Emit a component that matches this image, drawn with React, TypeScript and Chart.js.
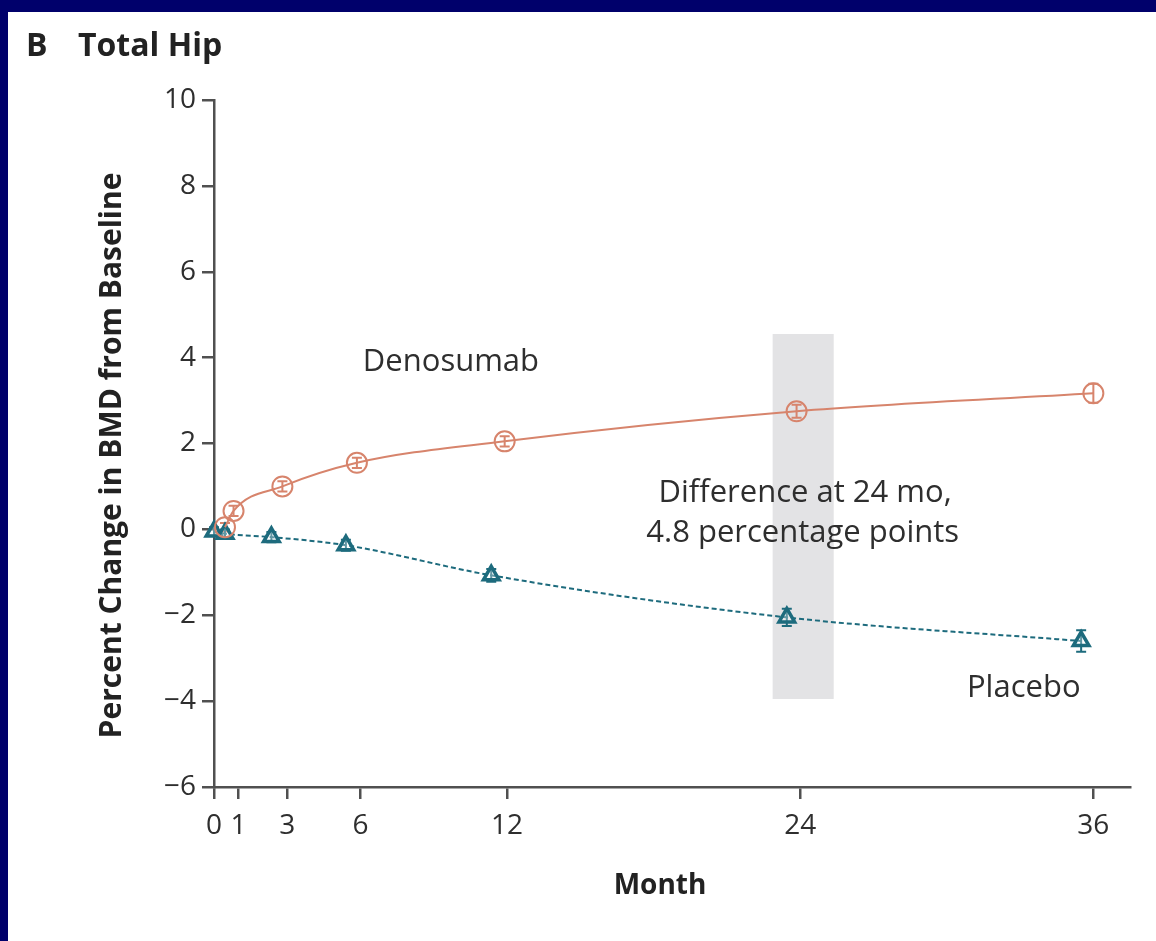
import React, { useEffect, useRef } from 'react';
import { Chart, registerables } from 'chart.js';

Chart.register(...registerables);

// ---- Data ----
const monthTicks = [0, 1, 3, 6, 12, 24, 36];
const yMin = -6;
const yMax = 10;
const yStep = 2;

const denosumabMonths = [0.45, 0.8, 2.8, 5.85, 11.9, 23.85, 36];
const denosumabValues = [0.05, 0.43, 1.0, 1.55, 2.05, 2.75, 3.17];
const denosumabErrors = [0.1, 0.12, 0.12, 0.12, 0.12, 0.15, 0.22];

const placeboMonths = [0, 0.45, 2.35, 5.4, 11.35, 23.45, 35.5];
const placeboValues = [-0.05, -0.1, -0.18, -0.37, -1.07, -2.05, -2.6];
const placeboErrors = [0.1, 0.1, 0.12, 0.13, 0.15, 0.2, 0.25];

const bandMonths = [22.87, 25.37];
const bandValues = [-3.95, 4.55];

const annotationTexts = ['Denosumab', 'Difference at 24 mo,', '4.8 percentage points', 'Placebo'];
const annotationMonths = [9.7, 24.2, 24.1, 33.15];
const annotationValues = [3.9, 0.85, -0.08, -3.69];

const titleLetter = 'B';
const titleText = 'Total Hip';
const yTitle = 'Percent Change in BMD from Baseline';
const xTitle = 'Month';

const ORANGE = '#d7846c';
const TEAL = '#1d6b7d';
const AXIS = '#505050';
const TEXT = '#2e2e2e';
const FONT = "'Open Sans', 'DejaVu Sans', sans-serif";

const series = [
  { months: denosumabMonths, values: denosumabValues, errors: denosumabErrors, color: ORANGE },
  { months: placeboMonths, values: placeboValues, errors: placeboErrors, color: TEAL },
];

const bandPlugin = {
  id: 'band',
  beforeDatasetsDraw(chart: any) {
    const { ctx, scales } = chart;
    const x = scales.x;
    const y = scales.y;
    const x0 = x.getPixelForValue(bandMonths[0]);
    const x1 = x.getPixelForValue(bandMonths[1]);
    const y0 = y.getPixelForValue(bandValues[1]);
    const y1 = y.getPixelForValue(bandValues[0]);
    ctx.save();
    ctx.fillStyle = '#e3e3e5';
    ctx.fillRect(x0, y0, x1 - x0, y1 - y0);
    ctx.restore();
  },
};

const errorBarPlugin = {
  id: 'errorBars',
  beforeDatasetsDraw(chart: any) {
    const { ctx, scales } = chart;
    const x = scales.x;
    const y = scales.y;
    ctx.save();
    series.forEach((s) => {
      ctx.strokeStyle = s.color;
      ctx.lineWidth = 2;
      s.months.forEach((m, i) => {
        const px = x.getPixelForValue(m);
        const top = y.getPixelForValue(s.values[i] + s.errors[i]);
        const bot = y.getPixelForValue(s.values[i] - s.errors[i]);
        ctx.beginPath();
        ctx.moveTo(px, top);
        ctx.lineTo(px, bot);
        ctx.moveTo(px - 5, top);
        ctx.lineTo(px + 5, top);
        ctx.moveTo(px - 5, bot);
        ctx.lineTo(px + 5, bot);
        ctx.stroke();
      });
    });
    ctx.restore();
  },
};

const textPlugin = {
  id: 'texts',
  afterDraw(chart: any) {
    const { ctx, scales, chartArea } = chart;
    const x = scales.x;
    const y = scales.y;
    ctx.save();
    ctx.fillStyle = TEXT;
    // annotations
    ctx.font = `31px ${FONT}`;
    ctx.textAlign = 'center';
    ctx.textBaseline = 'middle';
    annotationTexts.forEach((t, i) => {
      ctx.fillText(t, x.getPixelForValue(annotationMonths[i]), y.getPixelForValue(annotationValues[i]));
    });
    // title
    ctx.font = `bold 32px ${FONT}`;
    ctx.textAlign = 'left';
    ctx.textBaseline = 'alphabetic';
    ctx.fillStyle = '#222222';
    ctx.fillText(titleLetter, 18, 44);
    ctx.fillText(titleText, 70, 44);
    // x title
    ctx.font = `bold 28px ${FONT}`;
    ctx.textAlign = 'center';
    ctx.textBaseline = 'middle';
    ctx.fillText(xTitle, (chartArea.left + chartArea.right) / 2 - 12, 874);
    // y title
    ctx.font = `bold 30px ${FONT}`;
    ctx.translate(104, (chartArea.top + chartArea.bottom) / 2 + 12);
    ctx.rotate(-Math.PI / 2);
    ctx.fillText(yTitle, 0, 0);
    ctx.restore();
  },
};

export default function App() {
  const canvasRef = useRef<HTMLCanvasElement | null>(null);

  useEffect(() => {
    const canvas = canvasRef.current;
    if (!canvas) return;
    const chart = new Chart(canvas, {
      type: 'line',
      data: {
        datasets: [
          {
            label: 'Denosumab',
            data: denosumabMonths.map((m, i) => ({ x: m, y: denosumabValues[i] })),
            borderColor: ORANGE,
            backgroundColor: 'rgba(255,255,255,0)',
            borderWidth: 2,
            pointStyle: 'circle',
            pointRadius: 10,
            pointBorderWidth: 2,
            pointBorderColor: ORANGE,
            pointBackgroundColor: 'rgba(255,255,255,0)',
            tension: 0.4,
            cubicInterpolationMode: 'monotone',
            clip: false,
          } as any,
          {
            label: 'Placebo',
            data: placeboMonths.map((m, i) => ({ x: m, y: placeboValues[i] })),
            borderColor: TEAL,
            backgroundColor: 'rgba(255,255,255,0)',
            borderWidth: 2,
            borderDash: [5, 3],
            pointStyle: 'triangle',
            pointRadius: 9,
            pointBorderWidth: 3.5,
            pointBorderColor: TEAL,
            pointBackgroundColor: 'rgba(255,255,255,0.3)',
            tension: 0.4,
            cubicInterpolationMode: 'monotone',
            clip: false,
          } as any,
        ],
      },
      options: {
        animation: false,
        responsive: false,
        events: [],
        layout: { padding: { top: 88, right: 26, left: 0, bottom: 0 } },
        plugins: { legend: { display: false }, tooltip: { enabled: false }, title: { display: false } },
        scales: {
          x: {
            type: 'linear',
            min: 0,
            max: 37.5,
            afterBuildTicks: (s: any) => {
              s.ticks = monthTicks.map((v) => ({ value: v }));
            },
            afterFit: (s: any) => {
              s.height = 154;
            },
            ticks: {
              autoSkip: false,
              maxRotation: 0,
              padding: 10,
              color: TEXT,
              font: { family: FONT, size: 28 },
              callback: (v: any) => String(v),
            },
            grid: { drawOnChartArea: false, drawTicks: true, tickLength: 12, color: AXIS, lineWidth: 2.5 },
            border: { display: true, color: AXIS, width: 2.5 },
          },
          y: {
            type: 'linear',
            min: yMin,
            max: yMax,
            afterFit: (s: any) => {
              s.width = 206;
            },
            ticks: {
              stepSize: yStep,
              padding: 6,
              color: TEXT,
              font: { family: FONT, size: 28 },
              callback: (v: any) => (v < 0 ? '\u2212' + Math.abs(v) : String(v)),
            },
            grid: { drawOnChartArea: false, drawTicks: true, tickLength: 12, color: AXIS, lineWidth: 2.5 },
            border: { display: true, color: AXIS, width: 2.5 },
          },
        },
      } as any,
      plugins: [bandPlugin, errorBarPlugin, textPlugin],
    });
    return () => chart.destroy();
  }, []);

  return (
    <div
      style={{
        position: 'absolute',
        left: 0,
        top: 0,
        width: 1156,
        height: 941,
        background: '#00006b',
        overflow: 'hidden',
      }}
    >
      <div style={{ position: 'absolute', left: 8, top: 12, width: 1148, height: 929, background: '#ffffff' }}>
        <canvas ref={canvasRef} width={1148} height={929} style={{ display: 'block', width: 1148, height: 929 }} />
      </div>
    </div>
  );
}
